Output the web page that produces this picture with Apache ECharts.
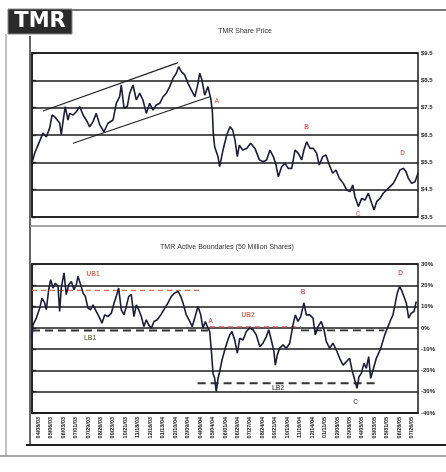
<!DOCTYPE html>
<html>
<head>
<meta charset="utf-8">
<script src="https://cdn.jsdelivr.net/npm/echarts@6/dist/echarts.min.js"></script>
<style>
html,body{margin:0;padding:0;background:#fff;}
#chart{width:446px;height:472px;}
</style>
</head>
<body>
<div id="chart"></div>
<script>
// ---------- DATA ----------
const dateLabels = ["04/08/03","05/06/03","06/03/03","07/01/03","07/29/03","08/26/03","09/23/03","10/21/03","11/18/03","12/16/03","01/13/04","02/10/04","03/09/04","04/06/04","05/04/04","06/01/04","06/29/04","07/27/04","08/24/04","09/21/04","10/19/04","11/16/04","12/14/04","01/11/05","02/08/05","03/08/05","04/05/05","05/03/05","05/31/05","06/28/05","07/26/05"];

// period position (in label periods) and share price ($)
const priceT = [0,0.22,0.48,0.88,1.15,1.42,1.61,1.82,2.03,2.22,2.35,2.49,2.67,2.89,3.03,3.29,3.56,3.83,4.10,4.36,4.63,4.90,5.16,5.44,5.78,6.10,6.51,6.77,7.04,7.17,7.39,7.65,7.85,8.11,8.38,8.65,8.91,9.18,9.45,9.72,9.98,10.26,10.52,10.79,11.06,11.32,11.59,11.78,11.99,12.26,12.53,12.79,13.07,13.28,13.47,13.65,13.87,14.13,14.35,14.48,14.56,14.67,14.94,15.07,15.34,15.64,15.90,16.12,16.30,16.49,16.65,16.92,17.24,17.56,17.91,18.26,18.58,18.85,19.11,19.38,19.60,19.78,20.05,20.32,20.58,20.86,21.12,21.39,21.66,21.84,22.06,22.33,22.59,22.86,23.07,23.35,23.61,23.88,24.15,24.41,24.68,25.00,25.27,25.54,25.76,25.94,26.21,26.48,26.74,27.01,27.28,27.47,27.68,27.95,28.21,28.49,28.75,29.02,29.29,29.55,29.82,30.04,30.22,30.49,30.76,31.0];
const priceV = [5.48,5.84,6.13,6.57,6.43,6.76,7.23,7.17,7.05,6.94,6.5,6.99,7.54,7.05,7.29,7.23,7.35,7.54,7.23,7.05,6.8,6.99,7.29,6.87,6.62,6.93,7.05,7.66,7.9,8.33,7.48,7.54,8.03,8.33,7.78,8.03,7.78,7.29,7.66,7.41,7.6,7.66,7.9,8.03,8.27,8.57,8.76,9.0,8.82,8.7,8.39,8.15,7.9,8.27,8.76,8.51,7.96,8.27,7.84,7.41,6.56,6.07,5.7,5.34,5.95,6.5,6.8,6.68,6.32,5.71,6.13,5.95,6.01,6.2,6.01,5.59,5.52,5.59,5.95,5.71,5.4,4.97,5.34,5.46,5.28,5.28,5.95,5.83,5.59,5.95,6.25,6.01,6.01,5.83,5.4,5.71,5.77,5.4,5.1,5.22,4.92,4.73,4.49,4.43,4.67,4.24,3.88,4.18,4.12,4.37,4.0,3.76,4.06,4.18,4.37,4.49,4.61,4.73,4.97,5.22,5.28,5.16,4.92,4.73,4.79,5.1];

// active boundaries (%)
const boundT = [0,0.08,0.35,0.62,0.80,1.02,1.15,1.34,1.50,1.69,1.87,2.09,2.22,2.35,2.57,2.75,2.95,3.16,3.37,3.56,3.69,3.91,4.10,4.28,4.50,4.71,4.90,5.16,5.44,5.62,5.84,6.10,6.37,6.59,6.77,6.96,7.17,7.39,7.57,7.77,7.97,8.19,8.38,8.57,8.78,8.99,9.18,9.37,9.58,9.80,10.06,10.34,10.66,10.92,11.19,11.46,11.73,11.94,12.13,12.39,12.67,12.87,13.07,13.33,13.55,13.73,13.92,14.13,14.27,14.40,14.54,14.67,14.80,14.94,15.07,15.26,15.48,15.68,15.88,16.06,16.28,16.49,16.68,16.95,17.21,17.48,17.75,18.01,18.29,18.55,18.82,19.01,19.22,19.43,19.54,19.70,19.89,20.16,20.42,20.70,20.96,21.15,21.36,21.58,21.84,22.03,22.30,22.57,22.75,22.97,23.23,23.45,23.64,23.91,24.17,24.44,24.71,24.98,25.24,25.51,25.70,25.92,26.10,26.26,26.45,26.66,26.85,27.04,27.20,27.39,27.65,27.84,28.05,28.33,28.59,28.81,28.99,29.18,29.34,29.53,29.72,29.88,30.06,30.25,30.46,30.68,30.86];
const boundV = [-4.9,1.4,4.6,9.3,14,11.7,8.5,17.9,22.6,18.7,21,19.5,7.7,18.7,25.8,15.6,20.3,21.8,17.9,20.3,24.2,20.3,16.4,14.8,9.3,8.5,10.8,7.7,4.6,2.2,6.1,5.3,6.9,11.7,14.8,18.7,8.5,6.1,10,14.8,15.6,5.3,10.8,8.5,5.3,0.6,3.8,1.4,-0.1,3,3.8,6.1,9.3,11.7,14.8,16.4,17.1,14.8,11.7,6.1,3,0.6,4.6,10,6.1,-0.1,3,-0.1,-1.7,-10.4,-21.4,-23.7,-30,-23.7,-20.6,-15.1,-10.4,-6.5,-3.3,-1.7,-5.7,-11.9,-4.9,-5.7,-1.7,-0.1,-0.9,-3.3,-8.8,-7.2,-4.1,-0.9,-5.7,-11.2,-17.5,-12.7,-9.6,-8,-9.6,-7.2,1.4,6.1,3,5.3,11.7,6.1,6.1,4.6,-3.3,0.6,3,-0.9,-6.5,-9.6,-7.2,-10.4,-14.3,-17.5,-15.9,-14.3,-19.8,-24.5,-28.4,-23,-21.4,-16.7,-19,-13.5,-23.7,-19.8,-14.3,-11.9,-8.8,-3.3,0.6,3.8,6.1,11.7,16.4,19.5,17.1,17.9,11.7,4.6,6.9,7.7,12.4];

// trend channel (price)
const channelUpper = [[0.88,7.38],[11.73,9.15]];
const channelLower = [[3.29,6.2],[14.27,7.9]];

// boundary levels (%)
const ub1 = [[0,17.6],[13.73,17.6]];
const lb1 = [[0,-1.3],[14.13,-1.3]];
const ub2 = [[14.3,0.4],[21.6,0.4]];
const lb1b = [[21.6,-1.2],[28.3,-1.2]];
const lb2 = [[13.3,-26],[27.8,-26]];

// annotation letters
const topMarks = [["A",14.85,7.75,"#e0603a"],["B",22.06,6.8,"#d84040"],["C",26.18,3.62,"#e07070"],["D",29.77,5.83,"#e05050"]];
const lowMarks = [["UB1",4.9,25,"#d04a3a"],["LB1",4.66,-4.7,"#5c5a2e"],["A",14.35,3,"#d04040"],["UB2",17.35,6,"#d04a3a"],["B",21.77,16.7,"#d03a3a"],["LB2",19.76,-28.5,"#333"],["C",25.99,-34.8,"#444"],["D",29.61,25.6,"#d03a3a"]];

// ---------- CHART ----------
const zip = (a, b) => a.map((t, i) => [t, b[i]]);
const chart = echarts.init(document.getElementById('chart'), null, {renderer: 'canvas'});
const gridLine = {show: true, lineStyle: {color: '#1a1a1a', width: 1.5}};
const lineCol = '#1b1b3c';

function dashed(data, color, width, dash, xi, yi) {
  return {type: 'line', xAxisIndex: xi, yAxisIndex: yi, data: data, showSymbol: false, silent: true,
    lineStyle: {color: color, width: width, type: dash}, z: 3};
}
function marks(list, xi, yi, size) {
  return {type: 'scatter', xAxisIndex: xi, yAxisIndex: yi, symbolSize: 0, silent: true, z: 5,
    data: list.map(m => ({value: [m[1], m[2]], label: {show: true, formatter: m[0], color: m[3], fontSize: size, fontFamily: 'Liberation Sans', fontWeight: 'bold', position: 'inside'}}))};
}

const option = {
  animation: false,
  backgroundColor: '#fff',
  textStyle: {fontFamily: 'Liberation Sans'},
  title: [
    {text: 'TMR Share Price', left: 240, top: 23, textAlign: 'center', textStyle: {fontSize: 7, fontWeight: 'normal', color: '#333'}},
    {text: 'TMR Active Boundaries (50 Million Shares)', left: 222, top: 239, textAlign: 'center', textStyle: {fontSize: 7, fontWeight: 'normal', color: '#333'}}
  ],
  grid: [
    {left: 32, top: 53, width: 386, height: 164, show: true, borderColor: '#1a1a1a', borderWidth: 1.5},
    {left: 32, top: 264, width: 386, height: 149, show: true, borderColor: '#1a1a1a', borderWidth: 1.5}
  ],
  xAxis: [
    {type: 'value', gridIndex: 0, min: 0, max: 31, show: false},
    {type: 'value', gridIndex: 1, min: 0, max: 31, show: false},
    {type: 'category', gridIndex: 1, data: dateLabels, boundaryGap: true, position: 'bottom',
      axisLine: {show: true, lineStyle: {color: '#1a1a1a', width: 1.5}}, axisTick: {show: false},
      axisLabel: {rotate: 90, fontSize: 5.5, color: '#222', margin: 4, interval: 0, fontWeight: 'bold'}}
  ],
  yAxis: [
    {type: 'value', gridIndex: 0, position: 'right', min: 3.5, max: 9.5, interval: 1,
      splitLine: gridLine, axisLine: {show: true, lineStyle: {color: '#1a1a1a', width: 1.5}},
      axisTick: {show: true, length: 4, lineStyle: {color: '#1a1a1a', width: 1.3}},
      axisLabel: {fontSize: 6, color: '#222', fontWeight: 'bold', margin: 3, formatter: v => '$' + v.toFixed(1)}},
    {type: 'value', gridIndex: 1, position: 'right', min: -40, max: 30, interval: 10,
      splitLine: gridLine, axisLine: {show: true, lineStyle: {color: '#1a1a1a', width: 1.5}},
      axisTick: {show: true, length: 4, lineStyle: {color: '#1a1a1a', width: 1.3}},
      axisLabel: {fontSize: 6, color: '#222', fontWeight: 'bold', margin: 3, formatter: v => v + '%'}}
  ],
  graphic: [
    {type: 'rect', shape: {x: 8, y: 9, width: 64, height: 25}, style: {fill: '#2a2a2a', stroke: '#888', lineWidth: 1}},
    {type: 'text', x: 40, y: 22, style: {text: 'TMR', fill: '#fff', font: 'bold 21px "DejaVu Sans"', textAlign: 'center', textVerticalAlign: 'middle'}},
    {type: 'line', shape: {x1: 72, y1: 10, x2: 446, y2: 10}, style: {stroke: '#777', lineWidth: 2}},
    {type: 'line', shape: {x1: 6, y1: 34, x2: 6, y2: 456}, style: {stroke: '#999', lineWidth: 1.2}},
    {type: 'line', shape: {x1: 30, y1: 36, x2: 30, y2: 446}, style: {stroke: '#333', lineWidth: 1.5}},
    {type: 'line', shape: {x1: 30, y1: 226, x2: 446, y2: 226}, style: {stroke: '#888', lineWidth: 1.5}},
    {type: 'line', shape: {x1: 26, y1: 445, x2: 446, y2: 445}, style: {stroke: '#222', lineWidth: 2}},
    {type: 'line', shape: {x1: 0, y1: 456, x2: 446, y2: 456}, style: {stroke: '#888', lineWidth: 1.5}}
  ],
  series: [
    {type: 'line', xAxisIndex: 0, yAxisIndex: 0, data: zip(priceT, priceV), showSymbol: false, silent: true,
      lineStyle: {color: lineCol, width: 1.6}, z: 4},
    dashed(channelUpper, '#222', 1.2, 'solid', 0, 0),
    dashed(channelLower, '#222', 1.2, 'solid', 0, 0),
    marks(topMarks, 0, 0, 6.5),
    {type: 'line', xAxisIndex: 1, yAxisIndex: 1, data: zip(boundT, boundV), showSymbol: false, silent: true,
      lineStyle: {color: lineCol, width: 1.6}, z: 4},
    dashed(ub1, '#e07050', 1.3, [5, 4], 1, 1),
    dashed(lb1, '#333', 2, [8, 5], 1, 1),
    dashed(ub2, '#d05050', 1.3, [5, 4], 1, 1),
    dashed(lb1b, '#333', 1.8, [8, 5], 1, 1),
    dashed(lb2, '#333', 2, [8, 5], 1, 1),
    marks(lowMarks, 1, 1, 6.5)
  ]
};
chart.setOption(option);
</script>
</body>
</html>
